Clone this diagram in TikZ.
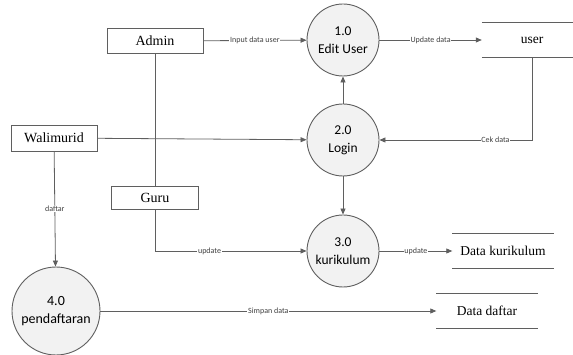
\documentclass[tikz,border=0pt]{standalone}
\usepackage{fontspec}
\setmainfont{Liberation Serif}
\newfontfamily\calfont{Carlito}
\usetikzlibrary{calc,arrows.meta}
\definecolor{linegray}{RGB}{95,95,95}
\definecolor{procfill}{RGB}{242,242,242}

\tikzset{
  entity/.style = {draw=linegray, minimum width=96pt, minimum height=25pt, font=\fontsize{14}{15}\selectfont},
  proc/.style = {circle, draw=linegray, fill=procfill, line width=0.9pt, minimum size=72pt, inner sep=0pt, align=center, font=\calfont\fontsize{13.5}{18}\selectfont},
  store/.style = {minimum width=101pt, minimum height=35pt, font=\fontsize{13.5}{14}\selectfont},
  flow/.style = {draw=linegray, line width=0.8pt, -{Triangle[length=6pt,width=5pt]}},
  lbl/.style = {fill=white, inner sep=0.8pt, text=black!75, font=\calfont\fontsize{8}{9}\selectfont}
}

\begin{document}
\begin{tikzpicture}[x=1pt,y=-1pt]
  \useasboundingbox (0,0) rectangle (573,355);
  % externe entiteiten
  \node[entity] (admin) at (155,41) {Admin};
  \node[entity, minimum width=86pt, minimum height=26pt] (wali) at (54,138) {Walimurid};
  \node[entity, minimum width=87pt, minimum height=23pt] (guru) at (155,198) {Guru};
  % proses
  \node[proc] (edit) at (343,40) {1.0\\Edit User};
  \node[proc] (login) at (343,140) {2.0\\Login};
  \node[proc] (kur) at (343,251) {3.0\\kurikulum};
  \node[proc, minimum size=88pt, font=\calfont\fontsize{14}{18}\selectfont] (daftar) at (56,311) {4.0\\pendaftaran};
  % data store
  \node[store, minimum width=100pt, minimum height=34pt] (user) at (532,40) {user};
  \node[store, minimum height=34pt] (dkur) at (503,251) {Data kurikulum};
  \node[store] (ddaf) at (487,311) {Data daftar};
  \foreach \s in {user,dkur,ddaf} {
    \draw[linegray, line width=0.9pt] (\s.north west)--(\s.north east);
    \draw[linegray, line width=0.9pt] (\s.south west)--(\s.south east);
  }
  % aliran
  \draw[linegray, line width=0.8pt] (admin)--(guru);
  \draw[flow] (admin)--(edit) node[lbl, midway] {Input data user};
  \draw[flow] (edit)--(user.west) node[lbl, midway] {Update data};
  \draw[flow] (wali)--(login);
  \draw[flow] (user.south)|-(login) node[lbl, pos=0.62] {Cek data};
  \draw[flow] (login)--(edit);
  \draw[flow] (login)--(kur);
  \draw[flow] (guru.south)|-(kur) node[lbl, pos=0.68] {update};
  \draw[flow] (kur)--(dkur.west) node[lbl, midway] {update};
  \draw[flow] (wali)--(daftar) node[lbl, midway] {daftar};
  \draw[flow] (daftar)--(ddaf.west) node[lbl, midway] {Simpan data};
\end{tikzpicture}
\end{document}
